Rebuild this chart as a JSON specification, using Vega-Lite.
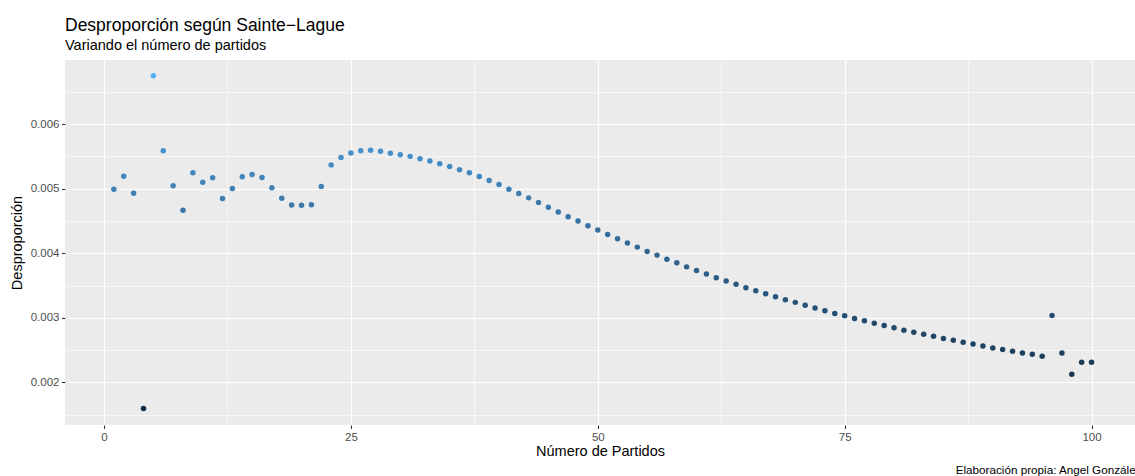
{
  "$schema": "https://vega.github.io/schema/vega-lite/v6.json",
  "width": 1070,
  "height": 365,
  "autosize": {"type": "none"},
  "padding": {"left": 65, "top": 60, "right": 0, "bottom": 51},
  "background": "white",
  "title": {
    "text": "Desproporción según Sainte−Lague",
    "subtitle": "Variando el número de partidos",
    "anchor": "start",
    "frame": "group",
    "font": "Liberation Sans",
    "fontSize": 17.5,
    "fontWeight": "normal",
    "color": "black",
    "subtitleFont": "Liberation Sans",
    "subtitleFontSize": 14.5,
    "subtitleColor": "black",
    "subtitlePadding": 4,
    "offset": 8
  },
  "data": {
    "values": [
      {"n": 1, "d": 0.004993}, {"n": 2, "d": 0.005195}, {"n": 3, "d": 0.004931}, {"n": 4, "d": 0.001595},
      {"n": 5, "d": 0.006752}, {"n": 6, "d": 0.005590}, {"n": 7, "d": 0.005046}, {"n": 8, "d": 0.004667},
      {"n": 9, "d": 0.005248}, {"n": 10, "d": 0.005102}, {"n": 11, "d": 0.005170}, {"n": 12, "d": 0.004848},
      {"n": 13, "d": 0.005004}, {"n": 14, "d": 0.005186}, {"n": 15, "d": 0.005222}, {"n": 16, "d": 0.005175},
      {"n": 17, "d": 0.005015}, {"n": 18, "d": 0.004853}, {"n": 19, "d": 0.004750}, {"n": 20, "d": 0.004746},
      {"n": 21, "d": 0.004752}, {"n": 22, "d": 0.005035}, {"n": 23, "d": 0.005370}, {"n": 24, "d": 0.005485},
      {"n": 25, "d": 0.005553}, {"n": 26, "d": 0.005590}, {"n": 27, "d": 0.005595}, {"n": 28, "d": 0.005580},
      {"n": 29, "d": 0.005549}, {"n": 30, "d": 0.005528}, {"n": 31, "d": 0.005502}, {"n": 32, "d": 0.005466},
      {"n": 33, "d": 0.005429}, {"n": 34, "d": 0.005388}, {"n": 35, "d": 0.005346}, {"n": 36, "d": 0.005295},
      {"n": 37, "d": 0.005248}, {"n": 38, "d": 0.005191}, {"n": 39, "d": 0.005128}, {"n": 40, "d": 0.005066},
      {"n": 41, "d": 0.004993}, {"n": 42, "d": 0.004926}, {"n": 43, "d": 0.004859}, {"n": 44, "d": 0.004786},
      {"n": 45, "d": 0.004713}, {"n": 46, "d": 0.004641}, {"n": 47, "d": 0.004568}, {"n": 48, "d": 0.004501},
      {"n": 49, "d": 0.004428}, {"n": 50, "d": 0.004361}, {"n": 51, "d": 0.004293}, {"n": 52, "d": 0.004226},
      {"n": 53, "d": 0.004158}, {"n": 54, "d": 0.004096}, {"n": 55, "d": 0.004028}, {"n": 56, "d": 0.003972},
      {"n": 57, "d": 0.003909}, {"n": 58, "d": 0.003852}, {"n": 59, "d": 0.003790}, {"n": 60, "d": 0.003732},
      {"n": 61, "d": 0.003681}, {"n": 62, "d": 0.003623}, {"n": 63, "d": 0.003572}, {"n": 64, "d": 0.003520},
      {"n": 65, "d": 0.003468}, {"n": 66, "d": 0.003421}, {"n": 67, "d": 0.003374}, {"n": 68, "d": 0.003328},
      {"n": 69, "d": 0.003281}, {"n": 70, "d": 0.003240}, {"n": 71, "d": 0.003194}, {"n": 72, "d": 0.003152},
      {"n": 73, "d": 0.003110}, {"n": 74, "d": 0.003069}, {"n": 75, "d": 0.003032}, {"n": 76, "d": 0.002991},
      {"n": 77, "d": 0.002954}, {"n": 78, "d": 0.002918}, {"n": 79, "d": 0.002882}, {"n": 80, "d": 0.002845},
      {"n": 81, "d": 0.002809}, {"n": 82, "d": 0.002778}, {"n": 83, "d": 0.002747}, {"n": 84, "d": 0.002716},
      {"n": 85, "d": 0.002680}, {"n": 86, "d": 0.002654}, {"n": 87, "d": 0.002623}, {"n": 88, "d": 0.002596},
      {"n": 89, "d": 0.002565}, {"n": 90, "d": 0.002534}, {"n": 91, "d": 0.002509}, {"n": 92, "d": 0.002482},
      {"n": 93, "d": 0.002456}, {"n": 94, "d": 0.002436}, {"n": 95, "d": 0.002405}, {"n": 96, "d": 0.003038},
      {"n": 97, "d": 0.002456}, {"n": 98, "d": 0.002125}, {"n": 99, "d": 0.002311}, {"n": 100, "d": 0.002311}
    ]
  },
  "layer": [
    {
      "mark": {"type": "point", "filled": true, "size": 30, "opacity": 1, "strokeWidth": 0},
      "encoding": {
        "x": {
          "field": "n",
          "type": "quantitative",
          "scale": {"domain": [-3.95, 104.4], "nice": false, "zero": false},
          "axis": {
            "title": "Número de Partidos",
            "values": [0, 12.5, 25, 37.5, 50, 62.5, 75, 87.5, 100],
            "labelExpr": "datum.value % 25 == 0 ? datum.label : ''",
            "format": "d",
            "grid": true,
            "gridColor": "white",
            "gridWidth": {"condition": {"test": "datum.value % 25 != 0", "value": 0.6}, "value": 1.2},
            "tickColor": {"condition": {"test": "datum.value % 25 != 0", "value": "transparent"}, "value": "#333333"},
            "tickSize": 3.5,
            "tickWidth": 1.1,
            "domain": false,
            "labelFont": "Liberation Sans",
            "labelFontSize": 11.5,
            "labelColor": "#4D4D4D",
            "labelPadding": 2.5,
            "titleFont": "Liberation Sans",
            "titleFontSize": 14.5,
            "titleFontWeight": "normal",
            "titleColor": "black",
            "titlePadding": 2
          }
        },
        "y": {
          "field": "d",
          "type": "quantitative",
          "scale": {"domain": [0.00134, 0.006995], "nice": false, "zero": false},
          "axis": {
            "title": "Desproporción",
            "values": [0.0015, 0.002, 0.0025, 0.003, 0.0035, 0.004, 0.0045, 0.005, 0.0055, 0.006, 0.0065],
            "format": ".3f",
            "labelExpr": "abs(datum.value * 1000 - round(datum.value * 1000)) > 0.01 ? '' : datum.label",
            "grid": true,
            "gridColor": "white",
            "gridWidth": {"condition": {"test": "abs(datum.value * 1000 - round(datum.value * 1000)) > 0.01", "value": 0.6}, "value": 1.2},
            "tickColor": {"condition": {"test": "abs(datum.value * 1000 - round(datum.value * 1000)) > 0.01", "value": "transparent"}, "value": "#333333"},
            "tickSize": 3.5,
            "tickWidth": 1.1,
            "domain": false,
            "labelFont": "Liberation Sans",
            "labelFontSize": 11.5,
            "labelColor": "#4D4D4D",
            "labelPadding": 2.5,
            "titleFont": "Liberation Sans",
            "titleFontSize": 14.5,
            "titleFontWeight": "normal",
            "titleColor": "black",
            "titlePadding": 5.5
          }
        },
        "color": {
          "field": "d",
          "type": "quantitative",
          "scale": {"range": ["#132B43", "#56B1F7"], "interpolate": "lab", "zero": false, "nice": false},
          "legend": null
        }
      }
    },
    {
      "mark": {"type": "point", "opacity": 0},
      "encoding": {
        "x": {
          "field": "n",
          "type": "quantitative",
          "axis": {
            "orient": "bottom",
            "title": "Elaboración propia: Angel González",
            "labels": false,
            "ticks": false,
            "domain": false,
            "grid": false,
            "titleFont": "Liberation Sans",
            "titleFontSize": 11.7,
            "titleFontWeight": "normal",
            "titleColor": "black",
            "titleAnchor": "end",
            "titleAlign": "right",
            "titleX": 1076,
            "titlePadding": 39.5
          }
        }
      }
    }
  ],
  "resolve": {"axis": {"x": "independent"}},
  "config": {
    "view": {"fill": "#EBEBEB", "stroke": null},
    "font": "Liberation Sans"
  }
}
